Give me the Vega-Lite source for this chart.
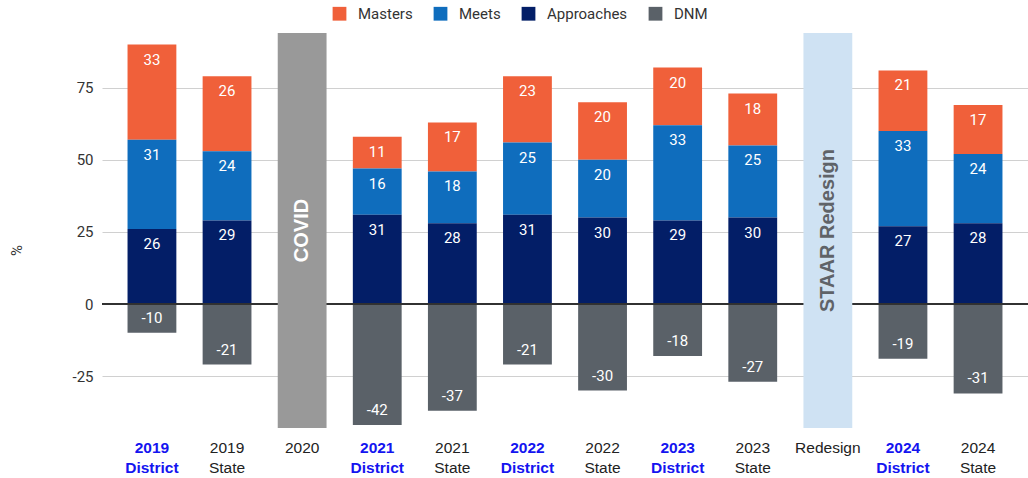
{
  "$schema": "https://vega.github.io/schema/vega-lite/v6.json",
  "width": 926,
  "height": 395,
  "autosize": "none",
  "padding": {"left": 102, "top": 33, "right": 0, "bottom": 50},
  "background": "white",
  "config": {"view": {"stroke": null}, "font": "Roboto"},
  "datasets": {
    "scores": [
      {"cat": "2019 District", "level": "Masters", "rank": 3, "value": 33},
      {"cat": "2019 District", "level": "Meets", "rank": 2, "value": 31},
      {"cat": "2019 District", "level": "Approaches", "rank": 1, "value": 26},
      {"cat": "2019 District", "level": "DNM", "rank": 0, "value": -10},
      {"cat": "2019 State", "level": "Masters", "rank": 3, "value": 26},
      {"cat": "2019 State", "level": "Meets", "rank": 2, "value": 24},
      {"cat": "2019 State", "level": "Approaches", "rank": 1, "value": 29},
      {"cat": "2019 State", "level": "DNM", "rank": 0, "value": -21},
      {"cat": "2021 District", "level": "Masters", "rank": 3, "value": 11},
      {"cat": "2021 District", "level": "Meets", "rank": 2, "value": 16},
      {"cat": "2021 District", "level": "Approaches", "rank": 1, "value": 31},
      {"cat": "2021 District", "level": "DNM", "rank": 0, "value": -42},
      {"cat": "2021 State", "level": "Masters", "rank": 3, "value": 17},
      {"cat": "2021 State", "level": "Meets", "rank": 2, "value": 18},
      {"cat": "2021 State", "level": "Approaches", "rank": 1, "value": 28},
      {"cat": "2021 State", "level": "DNM", "rank": 0, "value": -37},
      {"cat": "2022 District", "level": "Masters", "rank": 3, "value": 23},
      {"cat": "2022 District", "level": "Meets", "rank": 2, "value": 25},
      {"cat": "2022 District", "level": "Approaches", "rank": 1, "value": 31},
      {"cat": "2022 District", "level": "DNM", "rank": 0, "value": -21},
      {"cat": "2022 State", "level": "Masters", "rank": 3, "value": 20},
      {"cat": "2022 State", "level": "Meets", "rank": 2, "value": 20},
      {"cat": "2022 State", "level": "Approaches", "rank": 1, "value": 30},
      {"cat": "2022 State", "level": "DNM", "rank": 0, "value": -30},
      {"cat": "2023 District", "level": "Masters", "rank": 3, "value": 20},
      {"cat": "2023 District", "level": "Meets", "rank": 2, "value": 33},
      {"cat": "2023 District", "level": "Approaches", "rank": 1, "value": 29},
      {"cat": "2023 District", "level": "DNM", "rank": 0, "value": -18},
      {"cat": "2023 State", "level": "Masters", "rank": 3, "value": 18},
      {"cat": "2023 State", "level": "Meets", "rank": 2, "value": 25},
      {"cat": "2023 State", "level": "Approaches", "rank": 1, "value": 30},
      {"cat": "2023 State", "level": "DNM", "rank": 0, "value": -27},
      {"cat": "2024 District", "level": "Masters", "rank": 3, "value": 21},
      {"cat": "2024 District", "level": "Meets", "rank": 2, "value": 33},
      {"cat": "2024 District", "level": "Approaches", "rank": 1, "value": 27},
      {"cat": "2024 District", "level": "DNM", "rank": 0, "value": -19},
      {"cat": "2024 State", "level": "Masters", "rank": 3, "value": 17},
      {"cat": "2024 State", "level": "Meets", "rank": 2, "value": 24},
      {"cat": "2024 State", "level": "Approaches", "rank": 1, "value": 28},
      {"cat": "2024 State", "level": "DNM", "rank": 0, "value": -31}
    ],
    "events": [
      {"cat": "2020", "label": "COVID"},
      {"cat": "Redesign", "label": "STAAR Redesign"}
    ]
  },
  "encoding": {
    "x": {
      "field": "cat",
      "type": "nominal",
      "sort": ["2019 District", "2019 State", "2020", "2021 District", "2021 State", "2022 District", "2022 State", "2023 District", "2023 State", "Redesign", "2024 District", "2024 State"],
      "scale": {
        "domain": ["2019 District", "2019 State", "2020", "2021 District", "2021 State", "2022 District", "2022 State", "2023 District", "2023 State", "Redesign", "2024 District", "2024 State"],
        "paddingInner": 0.35,
        "paddingOuter": 0.34
      },
      "axis": {
        "title": null,
        "domain": false,
        "ticks": false,
        "labelAngle": 0,
        "labelPadding": 12,
        "labelFont": "Liberation Sans",
        "labelFontSize": 15.5,
        "labelLineHeight": 20,
        "labelExpr": "split(datum.label, ' ')",
        "labelColor": {"condition": {"test": "indexof(datum.label, 'District') >= 0", "value": "#1414f0"}, "value": "#222222"},
        "labelFontWeight": {"condition": {"test": "indexof(datum.label, 'District') >= 0", "value": "bold"}, "value": "normal"}
      }
    }
  },
  "layer": [
    {
      "data": {"name": "scores"},
      "transform": [
        {"stack": "value", "groupby": ["cat"], "sort": [{"field": "rank"}], "as": ["v0", "v1"], "offset": "zero"}
      ],
      "mark": {"type": "bar"},
      "encoding": {
        "y": {
          "field": "v0",
          "type": "quantitative",
          "scale": {"domain": [-43, 94], "nice": false, "zero": false},
          "axis": {
            "values": [-25, 0, 25, 50, 75],
            "labelExpr": "'' + datum.value",
            "title": "%",
            "titleFont": "Roboto",
            "titleFontSize": 15,
            "titleFontWeight": "normal",
            "titleColor": "#333333",
            "titleX": -78,
            "titleY": 217,
            "domain": false,
            "ticks": false,
            "labelPadding": 9,
            "labelFont": "Roboto",
            "labelFontSize": 15,
            "labelColor": "#333333",
            "gridColor": "#d0d0d0",
            "gridWidth": 1
          }
        },
        "y2": {"field": "v1"},
        "color": {
          "field": "level",
          "type": "nominal",
          "scale": {"domain": ["Masters", "Meets", "Approaches", "DNM"], "range": ["#f0603a", "#0f6dbd", "#031e67", "#5a6168"]},
          "legend": {
            "title": null,
            "orient": "none",
            "legendX": 230,
            "legendY": -27,
            "direction": "horizontal",
            "symbolType": "square",
            "symbolSize": 190,
            "symbolStrokeWidth": 0,
            "labelFont": "Roboto",
            "labelFontSize": 15,
            "labelColor": "#333333",
            "labelOffset": 11,
            "columnPadding": 20,
            "symbolOffset": 0
          }
        }
      }
    },
    {
      "data": {"name": "scores"},
      "mark": {"type": "rule", "color": "#333333", "strokeWidth": 1},
      "encoding": {"y": {"datum": 0}, "x": null}
    },
    {
      "data": {"name": "events"},
      "mark": {"type": "bar"},
      "encoding": {
        "y": {"datum": 94},
        "y2": {"datum": -43},
        "color": {
          "field": "label",
          "type": "nominal",
          "scale": {"domain": ["COVID", "STAAR Redesign"], "range": ["#999999", "#cfe2f3"]},
          "legend": null
        }
      }
    },
    {
      "data": {"name": "events"},
      "mark": {"type": "text", "angle": 270, "font": "Liberation Sans", "fontSize": 20, "fontWeight": "bold", "align": "center", "baseline": "middle"},
      "encoding": {
        "y": {"datum": 25.5},
        "text": {"field": "label"},
        "color": {
          "field": "label",
          "type": "nominal",
          "scale": {"domain": ["COVID", "STAAR Redesign"], "range": ["#ffffff", "#5f6368"]},
          "legend": null
        }
      }
    },
    {
      "data": {"name": "scores"},
      "transform": [
        {"stack": "value", "groupby": ["cat"], "sort": [{"field": "rank"}], "as": ["v0", "v1"], "offset": "zero"},
        {"filter": "datum.value > 0"}
      ],
      "mark": {"type": "text", "color": "white", "font": "Roboto", "fontSize": 15, "baseline": "middle", "dy": 15},
      "encoding": {
        "y": {"field": "v1", "type": "quantitative"},
        "text": {"field": "value", "type": "nominal"}
      }
    },
    {
      "data": {"name": "scores"},
      "transform": [
        {"stack": "value", "groupby": ["cat"], "sort": [{"field": "rank"}], "as": ["v0", "v1"], "offset": "zero"},
        {"filter": "datum.value < 0"}
      ],
      "mark": {"type": "text", "color": "white", "font": "Roboto", "fontSize": 15, "baseline": "middle", "dy": -15},
      "encoding": {
        "y": {"field": "v1", "type": "quantitative"},
        "text": {"field": "value", "type": "nominal"}
      }
    }
  ],
  "resolve": {"scale": {"color": "independent"}}
}
